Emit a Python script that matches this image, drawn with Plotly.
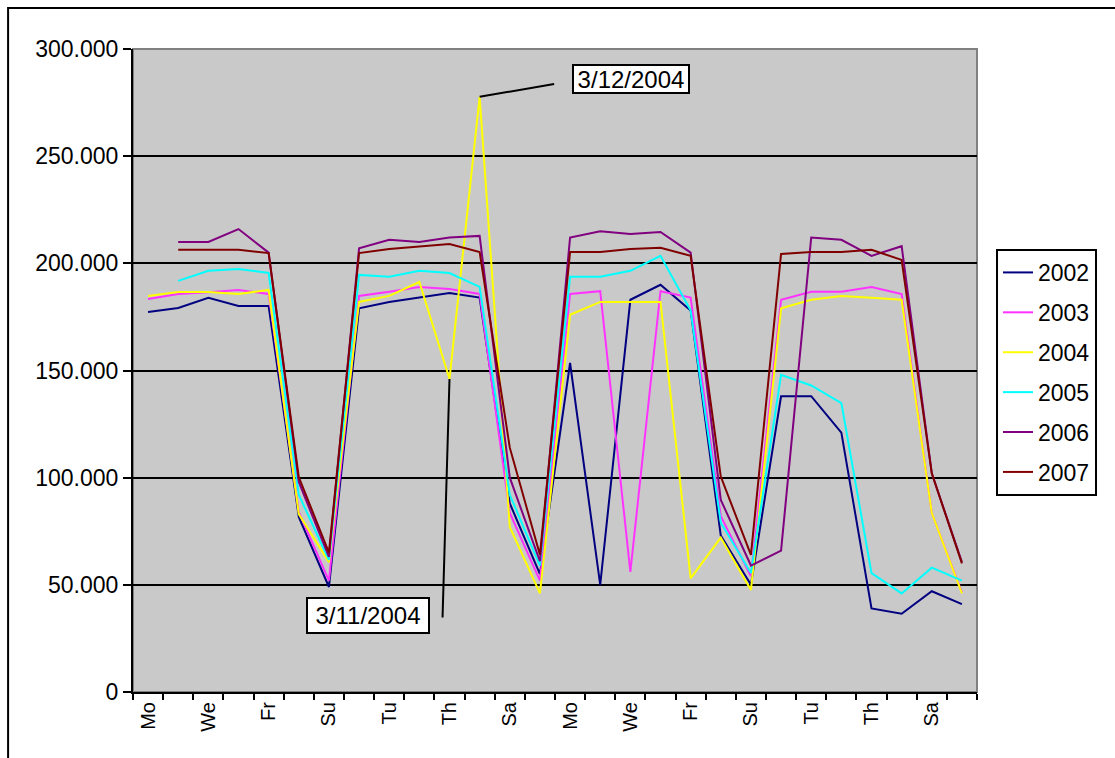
import plotly.graph_objects as go

# Day-of-week categories (four consecutive weeks)
days = ["Mo", "Tu", "We", "Th", "Fr", "Sa", "Su"] * 4

s2002 = [177.3, 179.2, 183.9, 180.1, 180.1, 81.7, 49.0,
         179.0, 182.0, 184.0, 186.2, 184.0, 88.0, 55.0,
         153.5, 50.0, 183.0, 190.0, 178.0, 73.0, 50.0,
         138.0, 138.0, 121.0, 39.0, 36.5, 47.0, 41.0]
s2003 = [183.4, 185.7, 186.5, 187.6, 185.7, 84.0, 52.0,
         184.8, 186.7, 189.0, 188.0, 185.7, 83.5, 52.0,
         185.7, 187.0, 56.0, 187.0, 184.0, 82.0, 54.0,
         183.0, 186.7, 186.7, 189.0, 185.7, 83.5, 46.5]
s2004 = [184.8, 186.6, 186.6, 185.7, 187.6, 83.0, 60.6,
         182.0, 184.8, 191.3, 146.0, 277.7, 77.0, 46.0,
         176.0, 182.0, 182.0, 182.0, 53.0, 72.0, 47.6,
         179.0, 183.0, 184.8, 184.0, 183.0, 83.5, 46.0]
s2005 = [None, 191.8, 196.5, 197.4, 195.5, 92.0, 61.6,
         194.6, 193.7, 196.5, 195.5, 189.0, 92.0, 59.0,
         193.7, 193.7, 196.5, 203.5, 178.0, 79.0, 55.5,
         148.0, 143.0, 134.8, 55.5, 46.0, 58.0, 52.0]
s2006 = [None, 210.0, 210.0, 216.0, 205.0, 98.0, 63.0,
         207.0, 211.0, 210.0, 212.0, 212.8, 100.0, 61.0,
         212.0, 215.0, 213.7, 214.6, 205.0, 89.6, 59.0,
         66.0, 212.0, 211.0, 203.5, 208.0, 102.0, 60.6]
s2007 = [None, 206.3, 206.3, 206.3, 204.8, 100.3, 65.0,
         204.8, 206.7, 208.0, 209.0, 205.3, 114.0, 64.0,
         205.3, 205.3, 206.7, 207.3, 203.5, 100.5, 64.0,
         204.4, 205.3, 205.3, 206.3, 201.6, 102.0, 60.0]

years = ["2002", "2003", "2004", "2005", "2006", "2007"]
colors = ["#000080", "#FF33FF", "#FFFF00", "#00FFFF", "#800080", "#800000"]
series = [s2002, s2003, s2004, s2005, s2006, s2007]

y_ticks = [0, 50, 100, 150, 200, 250, 300]
y_ticktext = ["0", "50.000", "100.000", "150.000", "200.000", "250.000", "300.000"]

FONT = "Liberation Sans, Arial, sans-serif"
x = list(range(len(days)))

fig = go.Figure()
for name, col, vals in zip(years, colors, series):
    fig.add_trace(go.Scatter(
        x=x, y=vals, name=name, mode="lines",
        line=dict(color=col, width=2),
        legendgroup=name, connectgaps=False,
    ))

fig.update_layout(
    width=1115, height=758,
    margin=dict(l=133, r=138, t=49, b=66),
    paper_bgcolor="white",
    plot_bgcolor="#C9C9C9",
    font=dict(family=FONT, size=23, color="black"),
    showlegend=True,
    legend=dict(
        x=1.0225, y=0.689, xanchor="left", yanchor="top",
        bordercolor="black", borderwidth=2, bgcolor="white",
        font=dict(size=23), tracegroupgap=7,
        itemwidth=30,
    ),
    xaxis=dict(
        range=[-0.5, len(days) - 0.5],
        tickmode="array",
        tickvals=x[::2], ticktext=days[::2],
        tickangle=-90, ticks="", ticklen=0,
        tickfont=dict(size=20),
        showgrid=False, zeroline=False,
        showline=True, linecolor="black", linewidth=2,
        minor=dict(tickmode="linear", tick0=-0.5, dtick=1,
                   ticks="outside", ticklen=6, tickwidth=2,
                   tickcolor="black", showgrid=False),
    ),
    yaxis=dict(
        range=[0, 300],
        tickmode="array", tickvals=y_ticks, ticktext=y_ticktext,
        ticks="outside", ticklen=8, tickwidth=2, tickcolor="black",
        tickfont=dict(size=23),
        showgrid=True, gridcolor="black", gridwidth=2,
        zeroline=False,
        showline=True, linecolor="black", linewidth=2,
    ),
)

# Plot area frame (gray top/right edge) and outer chart border
fig.add_shape(type="rect", xref="paper", yref="paper", x0=0, y0=0, x1=1, y1=1,
              line=dict(color="#808080", width=2), layer="below")
fig.add_shape(type="rect", xref="paper", yref="paper",
              x0=-0.148, y0=-0.115, x1=1.17, y1=1.0638,
              line=dict(color="black", width=2))

# Callouts for 3/11/2004 and 3/12/2004
fig.add_annotation(x=10, y=s2004[10], text="", showarrow=True, arrowhead=0,
                   arrowwidth=2, arrowcolor="black", ax=-7, ay=240, standoff=0)
fig.add_annotation(x=11, y=s2004[11], text="", showarrow=True, arrowhead=0,
                   arrowwidth=2, arrowcolor="black", ax=76, ay=-13, standoff=0)
fig.add_annotation(x=7.3, y=35.5, text="3/11/2004", showarrow=False,
                   width=118, height=31,
                   bgcolor="white", bordercolor="black", borderwidth=2,
                   borderpad=1, font=dict(size=24))
fig.add_annotation(x=16.02, y=286.2, text="3/12/2004", showarrow=False,
                   width=112, height=24,
                   bgcolor="white", bordercolor="black", borderwidth=2,
                   borderpad=1, font=dict(size=24))

fig.write_html("out.html")
